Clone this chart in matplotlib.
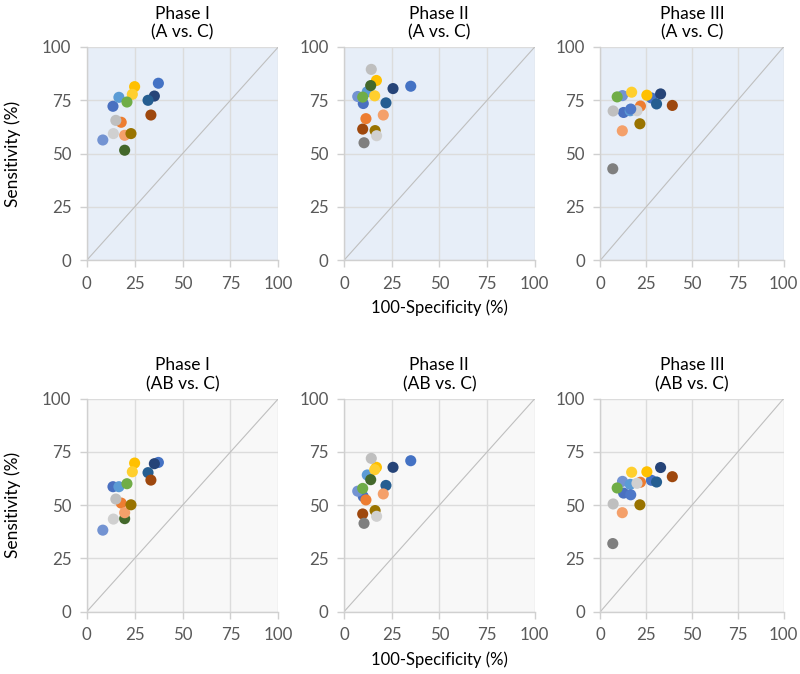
import numpy as np
import matplotlib
matplotlib.use("Agg")
import matplotlib.pyplot as plt

plt.rcParams['font.family'] = ['Lato', 'DejaVu Sans']

series_colors = ["#4472C4", "#4A70C0", "#7393D2", "#5B9BD5", "#FFC000", "#FFCF2E",
                 "#264478", "#255E91", "#70AD47", "#43682B", "#9E480E", "#ED7D31",
                 "#F4A06A", "#997300", "#BFBFBF", "#D0D0D0", "#7F7F7F", "#4E78C8"]
nan = np.nan

# x = 100-Specificity, y = Sensitivity for each panel (series order as colours)
p1_x = [37.4, 13.7, 8.4, 16.8, 25.0, 23.8, 35.3, 32.0, 21.0, 19.8, 33.5, 18.0, 19.8, 23.1, 15.2, 13.9, nan, nan]
p1_y = [83.0, 72.2, 56.4, 76.4, 81.4, 77.8, 77.0, 75.0, 74.2, 51.6, 68.1, 64.7, 58.6, 59.4, 65.6, 59.4, nan, nan]
p4_y = [70.1, 58.7, 38.3, 58.7, 69.8, 65.7, 69.5, 65.3, 60.1, 43.7, 61.8, 51.0, 46.5, 50.2, 52.9, 43.5, nan, nan]

p2_x = [35.0, 10.1, 7.2, 12.2, 17.0, 16.1, 25.7, 22.0, 9.8, 14.0, 9.8, 11.5, 20.6, 16.3, 14.3, 17.1, 10.5, nan]
p2_y = [81.6, 73.5, 76.8, 79.0, 84.3, 77.1, 80.5, 73.8, 76.5, 81.9, 61.5, 66.4, 68.1, 60.8, 89.5, 58.4, 55.1, nan]
p5_y = [70.9, 54.1, 56.6, 64.2, 67.8, 66.7, 67.8, 59.3, 57.9, 62.0, 45.9, 52.5, 55.3, 47.5, 72.0, 44.8, 41.5, nan]

p3_x = [27.9, 12.7, 12.1, 16.3, 25.4, 17.1, 32.9, 30.7, 9.2, nan, 39.3, 21.9, 12.0, 21.6, 7.0, 20.0, 6.8, 16.6]
p3_y = [76.1, 69.3, 77.2, 70.1, 77.4, 78.8, 78.0, 73.3, 76.6, nan, 72.6, 72.3, 60.7, 64.0, 70.0, 70.1, 42.9, 70.9]
p6_y = [61.7, 55.7, 61.2, 59.8, 65.7, 65.5, 67.7, 60.9, 58.1, nan, 63.4, 60.8, 46.5, 50.2, 50.6, 60.3, 32.0, 54.9]

titles_top = ["Phase I\n(A vs. C)", "Phase II\n(A vs. C)", "Phase III\n(A vs. C)"]
titles_bot = ["Phase I\n(AB vs. C)", "Phase II\n(AB vs. C)", "Phase III\n(AB vs. C)"]
ticks = [0, 25, 50, 75, 100]

fig = plt.figure(figsize=(8.0, 6.74), dpi=100)

lefts = [0.1084, 0.430, 0.7504]
widths = [0.2395, 0.2384, 0.2290]
row_bottom = [0.6138, 0.0924]
row_height = [0.3165, 0.316]

panels = [
    (0, 0, p1_x, p1_y, titles_top[0], "#E7EEF8"),
    (0, 1, p2_x, p2_y, titles_top[1], "#E7EEF8"),
    (0, 2, p3_x, p3_y, titles_top[2], "#E7EEF8"),
    (1, 0, p1_x, p4_y, titles_bot[0], "#F8F8F8"),
    (1, 1, p2_x, p5_y, titles_bot[1], "#F8F8F8"),
    (1, 2, p3_x, p6_y, titles_bot[2], "#F8F8F8"),
]

for row, col, xs, ys, title, bg in panels:
    ax = fig.add_axes([lefts[col], row_bottom[row], widths[col], row_height[row]])
    ax.set_facecolor(bg)
    ax.set_xlim(0, 100)
    ax.set_ylim(0, 100)
    ax.set_xticks(ticks)
    ax.set_yticks(ticks)
    ax.grid(True, color="#DCDCDC", linewidth=1.0)
    ax.set_axisbelow(True)
    for s in ["top", "right"]:
        ax.spines[s].set_visible(False)
    for s in ["left", "bottom"]:
        ax.spines[s].set_color("#D0D0D0")
        ax.spines[s].set_linewidth(1.0)
    ax.tick_params(colors="#D0D0D0", labelcolor="#595959", labelsize=12.2, length=5, width=1, pad=6)
    ax.plot([0, 100], [0, 100], color="#BFBFBF", linewidth=0.8, zorder=1)
    for x, y, c in zip(xs, ys, series_colors):
        if np.isnan(x) or np.isnan(y):
            continue
        ax.scatter([x], [y], s=64, color=c, edgecolors="none", zorder=3, clip_on=False)
    ax.set_title(title, fontsize=12.5, color="#000000", pad=7, linespacing=1.2)
    if col == 0:
        ax.set_ylabel("Sensitivity (%)", fontsize=12.5, color="#000000", labelpad=15)
    if col == 1:
        ax.set_xlabel("100-Specificity (%)", fontsize=12, color="#000000", labelpad=6)

fig.savefig("out.png", dpi=100)
